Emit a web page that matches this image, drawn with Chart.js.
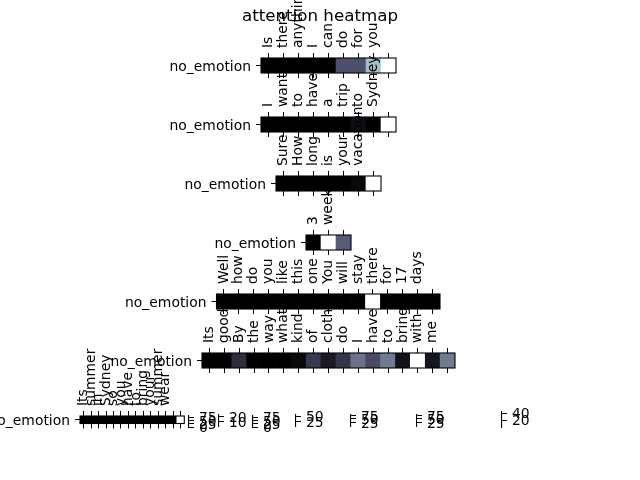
<!DOCTYPE html>
<html>
<head>
<meta charset="utf-8">
<script src="https://cdn.jsdelivr.net/npm/chart.js@4.4.0/dist/chart.umd.min.js"></script>
<style>
  html, body { margin: 0; padding: 0; background: #fff; }
  #fig { position: relative; width: 640px; height: 480px; overflow: hidden; }
  #fig canvas { position: absolute; left: 0; top: 0; }
</style>
</head>
<body>
<div id="fig"></div>
<script>
const title = "attention heatmap";
const rowLabel = "no_emotion";

// one row of attention per sentence
const words1 = ["Is", "there", "anything", "I", "can", "do", "for", "you", ""];
const attn1 = [0, 0, 0, 0, 0, 0.35, 0.35, 0.73, 1];
const words2 = ["I", "want", "to", "have", "a", "trip", "to", "Sydney", ""];
const attn2 = [0, 0, 0, 0, 0, 0, 0.06, 0, 1];
const words3 = ["Sure", "How", "long", "is", "your", "vacation", ""];
const attn3 = [0, 0, 0, 0, 0, 0.04, 1];
const words4 = ["3", "weeks", ""];
const attn4 = [0, 1, 0.4];
const words5 = ["Well", "how", "do", "you", "like", "this", "one", "You", "will", "stay", "there", "for", "17", "days", ""];
const attn5 = [0, 0, 0, 0, 0, 0, 0, 0, 0, 0, 1, 0, 0, 0, 0];
const words6 = ["Its", "good", "By", "the", "way", "what", "kind", "of", "clothes", "do", "I", "have", "to", "bring", "with", "me", ""];
const attn6 = [0, 0, 0.2, 0, 0, 0, 0.04, 0.25, 0.11, 0.24, 0.47, 0.33, 0.5, 0.08, 1, 0.1, 0.5];
const words7 = ["Its", "summer", "in", "Sydney", "so", "you", "have", "to", "bring", "your", "summer", "wear", "", ""];
const attn7 = [0, 0, 0, 0, 0, 0, 0, 0, 0, 0, 0, 0, 0, 1];

// colorbar ticks and ranges
const cbTicks = [[0, 25, 50, 75], [10, 20], [0, 25, 50, 75], [25, 50], [25, 50, 75], [25, 50, 75], [20, 40]];
const cbMin = [0, 0, 0, 5, 0, 0, 0];
const cbMax = [85, 24, 85, 55, 78, 78, 44];

// where things sit on the page (left, top, width, height)
const rowBox = [
  [261, 58, 135, 15],
  [261, 117, 135, 15],
  [276, 176, 105, 15],
  [306, 235, 45, 15],
  [216.5, 294, 223.5, 15],
  [202, 353, 253, 15],
  [80, 416, 104.3, 7.5]
];
const cbBox = [[189, 416, 427], [219, 415, 426], [253, 416, 427], [296, 415, 426], [351, 415, 426], [417, 415, 426], [502, 412, 427]];

Chart.defaults.font.family = "DejaVu Sans";
Chart.defaults.color = "#000";
const font = { family: "DejaVu Sans", size: 13.9 };

function bone(t) {
  const r = t < 0.746032 ? t * 0.652778 / 0.746032 : 0.652778 + (t - 0.746032) * 0.347222 / 0.253968;
  const g = t < 0.365079 ? t * 0.319444 / 0.365079
    : t < 0.746032 ? 0.319444 + (t - 0.365079) * 0.458334 / 0.380953
    : 0.777778 + (t - 0.746032) * 0.222222 / 0.253968;
  const b = t < 0.365079 ? t * 0.444444 / 0.365079 : 0.444444 + (t - 0.365079) * 0.555556 / 0.634921;
  return "rgb(" + Math.round(r * 255) + "," + Math.round(g * 255) + "," + Math.round(b * 255) + ")";
}

function addCanvas() {
  const c = document.createElement("canvas");
  c.width = 640;
  c.height = 480;
  document.getElementById("fig").appendChild(c);
  return c;
}

// force a scale box to a fixed size so the plot area lands where we want
function fixSize(size) {
  return s => {
    if (s.isHorizontal()) s.height = size; else s.width = size;
    s.paddingLeft = s.paddingRight = s.paddingTop = s.paddingBottom = 0;
  };
}

const frame = {
  id: "frame",
  afterDatasetsDraw(chart) {
    const a = chart.chartArea, ctx = chart.ctx;
    ctx.save();
    ctx.strokeStyle = "#000";
    ctx.lineWidth = 1.1;
    ctx.strokeRect(a.left, a.top, a.right - a.left, a.bottom - a.top);
    ctx.restore();
  }
};

const base = { responsive: false, animation: false, devicePixelRatio: 1 };
const tickGrid = { offset: false, drawOnChartArea: false, tickLength: 5, color: "#000" };

// title
new Chart(addCanvas(), {
  type: "bar",
  data: { labels: [], datasets: [] },
  options: Object.assign({}, base, {
    layout: { padding: 0 },
    scales: { x: { display: false }, y: { display: false } },
    plugins: {
      legend: { display: false },
      tooltip: { enabled: false },
      title: { display: true, text: title, color: "#000", font: { family: "DejaVu Sans", size: 16.7, weight: "normal" }, padding: { top: 7, bottom: 0 } }
    }
  })
});

function heatRow(words, attn, box) {
  const [left, top, w, h] = box;
  const lo = Math.min(...attn), hi = Math.max(...attn);
  new Chart(addCanvas(), {
    type: "bar",
    data: {
      labels: words,
      datasets: [{
        data: words.map(() => 1),
        backgroundColor: attn.map(v => bone((v - lo) / (hi - lo))),
        barPercentage: 1,
        categoryPercentage: 1,
        borderWidth: 0
      }]
    },
    options: Object.assign({}, base, {
      layout: { padding: { left: 0, top: 0, right: 640 - left - w, bottom: 480 - top - h } },
      plugins: { legend: { display: false }, tooltip: { enabled: false } },
      scales: {
        x: {
          position: "top", offset: true, grid: tickGrid, border: { display: false },
          ticks: { autoSkip: false, minRotation: 90, maxRotation: 90, padding: 5, labelOffset: 16.7, font: font },
          afterFit: fixSize(top)
        },
        xb: {
          type: "category", position: "bottom", offset: true, grid: tickGrid, border: { display: false },
          ticks: { display: false }, afterFit: fixSize(0)
        },
        y: {
          position: "left", min: 0, max: 1, grid: tickGrid, border: { display: false },
          afterBuildTicks: s => { s.ticks = [{ value: 0.5 }]; },
          ticks: { callback: () => rowLabel, padding: 5, labelOffset: 1.5, font: font },
          afterFit: fixSize(left)
        }
      }
    }),
    plugins: [frame]
  });
}

function colorbar(ticks, min, max, box) {
  const [x, top, bottom] = box;
  new Chart(addCanvas(), {
    type: "bar",
    data: { labels: [""], datasets: [] },
    options: Object.assign({}, base, {
      layout: { padding: { left: x - 1, top: top, right: 0, bottom: 480 - bottom } },
      plugins: { legend: { display: false }, tooltip: { enabled: false } },
      scales: {
        x: { display: false },
        y: {
          position: "right", min: min, max: max, grid: tickGrid,
          border: { display: true, color: "#000", width: 1.1 },
          afterBuildTicks: s => { s.ticks = ticks.map(v => ({ value: v })); },
          ticks: { autoSkip: false, padding: 5, labelOffset: 1.5, font: font, callback: v => String(v) },
          afterFit: fixSize(640 - x)
        }
      }
    })
  });
}

const allWords = [words1, words2, words3, words4, words5, words6, words7];
const allAttn = [attn1, attn2, attn3, attn4, attn5, attn6, attn7];
allWords.forEach((w, i) => heatRow(w, allAttn[i], rowBox[i]));
cbTicks.forEach((t, i) => colorbar(t, cbMin[i], cbMax[i], cbBox[i]));
</script>
</body>
</html>
